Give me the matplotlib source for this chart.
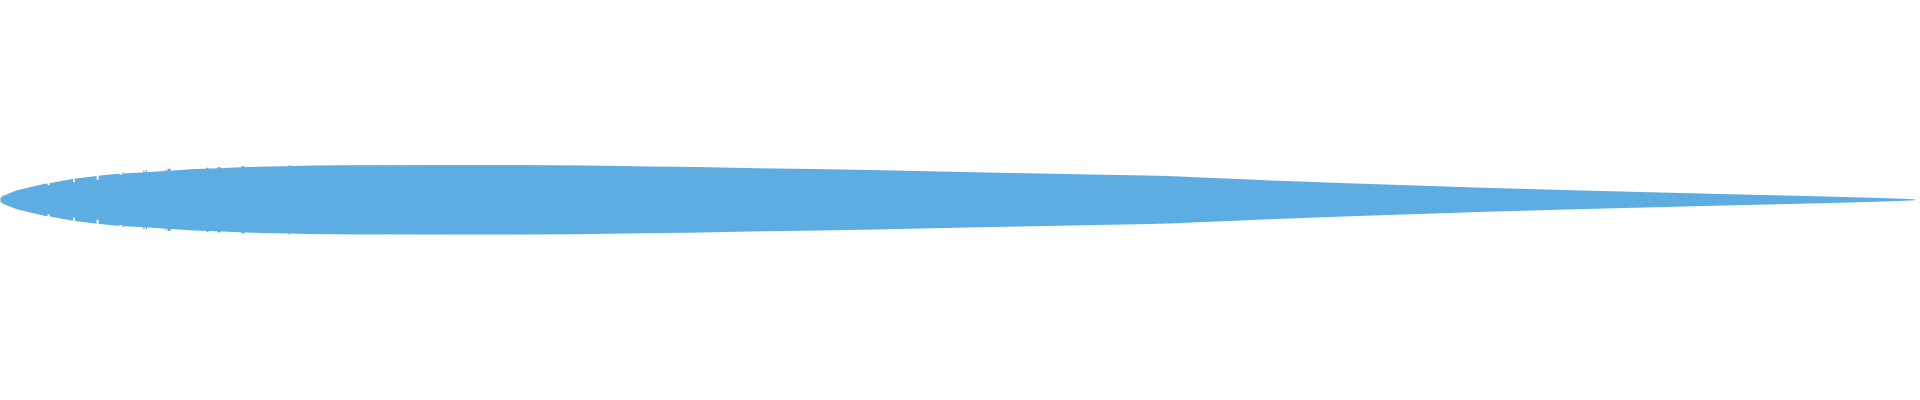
import numpy as np
import matplotlib
matplotlib.use('Agg')
import matplotlib.pyplot as plt

# chord stations (% of chord) and half thickness
station = [0.0, 0.16, 0.37, 0.63, 0.89, 1.20, 1.57, 1.93, 2.25, 2.77,
           3.29, 3.81, 4.54, 5.22, 6.27, 7.31, 8.20, 9.56, 10.08, 11.33,
           12.53, 13.73, 15.14, 16.34, 18.28, 23.50, 27.15, 30.13, 32.38, 33.94,
           36.03, 39.69, 42.82, 45.69, 48.56, 51.44, 54.31, 56.92, 59.79, 60.84,
           61.62, 62.66, 63.97, 65.27, 66.32, 67.89, 69.19, 70.76, 72.32, 73.89,
           75.46, 77.02, 78.85, 80.68, 82.51, 84.60, 86.68, 88.77, 90.86, 93.21,
           95.30, 97.23, 98.96, 99.84, 100.0]
half_thickness = [0.20, 0.42, 0.58, 0.78, 0.97, 1.10, 1.28, 1.43, 1.58, 1.73,
                  1.92, 2.10, 2.27, 2.43, 2.62, 2.72, 2.83, 3.00, 3.07, 3.15,
                  3.25, 3.32, 3.37, 3.43, 3.46, 3.47, 3.47, 3.44, 3.38, 3.33,
                  3.29, 3.15, 3.07, 2.97, 2.85, 2.73, 2.63, 2.53, 2.43, 2.38,
                  2.33, 2.23, 2.13, 2.03, 1.93, 1.83, 1.73, 1.63, 1.53, 1.43,
                  1.33, 1.23, 1.13, 1.03, 0.93, 0.83, 0.73, 0.63, 0.53, 0.43,
                  0.33, 0.23, 0.13, 0.06, 0.03]

# ragged bars near the leading edge: station, change in half thickness, width
spike_station = [2.51, 3.84, 5.07, 6.29, 6.40, 7.49, 7.62, 8.62, 8.80, 10.81, 11.41, 12.66, 15.09]
spike_delta = [-0.2, -0.35, -0.4, -0.1, 0.1, 0.2, 0.2, 0.1, 0.2, 0.1, 0.1, 0.1, 0.1]
spike_width = [0.10, 0.08, 0.10, 0.15, 0.06, 0.06, 0.06, 0.06, 0.17, 0.10, 0.17, 0.17, 0.06]

color = '#5DADE2'

x = np.array(station)
y = np.array(half_thickness)
for s, d, w in zip(spike_station, spike_delta, spike_width):
    base = np.interp(s, x, y)
    lo, hi = s - w / 2, s + w / 2
    ins_x = [lo - 0.005, lo, hi, hi + 0.005]
    ins_y = [np.interp(lo - 0.005, x, y), base + d, base + d, np.interp(hi + 0.005, x, y)]
    keep = (x < lo - 0.005) | (x > hi + 0.005)
    x = np.concatenate([x[keep], ins_x])
    y = np.concatenate([y[keep], ins_y])
    order = np.argsort(x)
    x, y = x[order], y[order]

fig = plt.figure(figsize=(19.2, 4), dpi=100)
ax = fig.add_axes([0, 0, 1, 1])
ax.fill_between(x, -y, y, color=color, linewidth=0, antialiased=False)
ax.set_xlim(0, 100.26)
ax.set_ylim(-20.07, 19.93)
ax.axis('off')
fig.savefig('out.png', dpi=100, facecolor='white')
